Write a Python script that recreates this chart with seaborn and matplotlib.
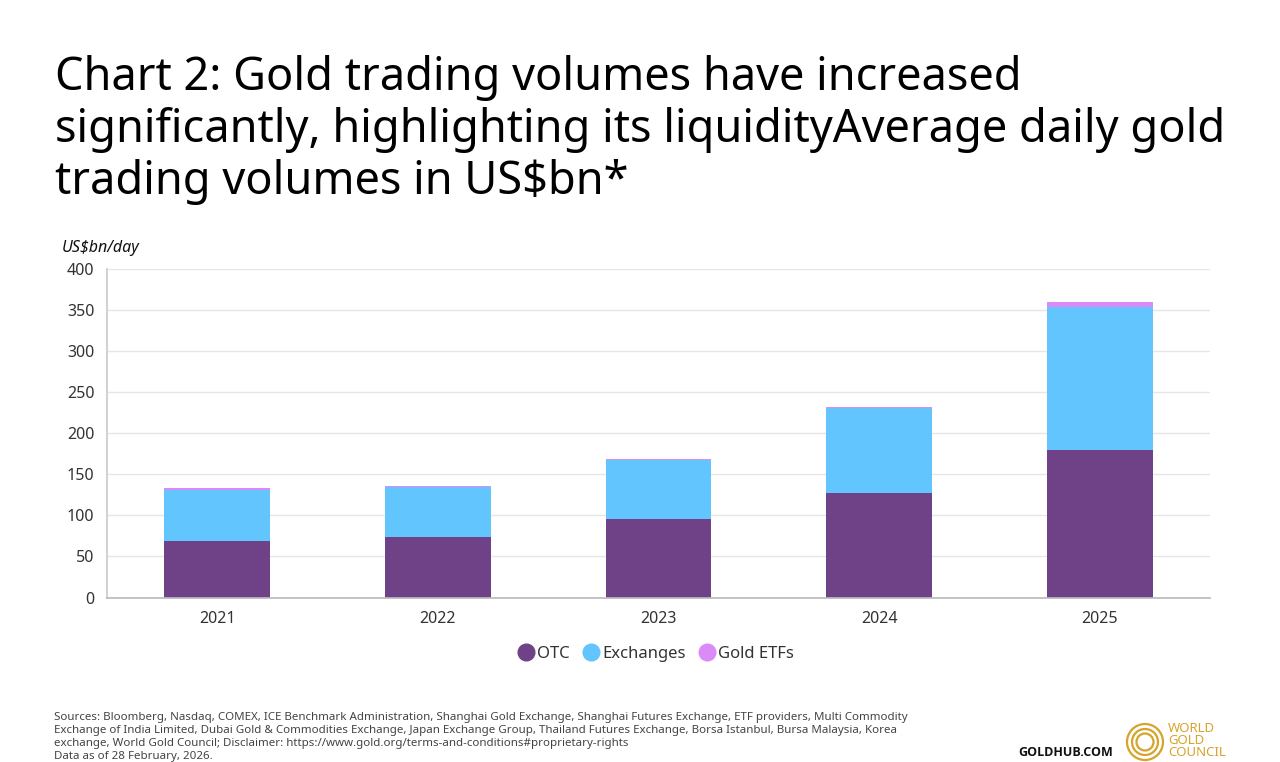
import matplotlib
matplotlib.use("Agg")
import matplotlib.pyplot as plt
import seaborn as sns
import pandas as pd
import numpy as np
from matplotlib.patches import Circle

years = ["2021", "2022", "2023", "2024", "2025"]
otc = [68.5, 74, 95, 127, 179]
exchanges = [62.5, 60.5, 72, 103.5, 174.5]
gold_etfs = [2.5, 1.5, 1.6, 1.7, 6.5]
series_names = ["OTC", "Exchanges", "Gold ETFs"]
colors = ["#6f4287", "#62c5fd", "#dc8af8"]
yticks = [0, 50, 100, 150, 200, 250, 300, 350, 400]

sns.set_theme(style="white")
plt.rcParams["font.family"] = ["Noto Sans", "DejaVu Sans"]

fig = plt.figure(figsize=(12.8, 7.62), dpi=100)
ax = fig.add_axes([107/1280, 1-597.5/762, (1210-107)/1280, (597.5-269)/762])

df = pd.DataFrame({"year": years, "OTC": otc, "Exchanges": exchanges, "Gold ETFs": gold_etfs})
bottoms = np.zeros(len(years))
for name, col in zip(series_names, colors):
    sns.barplot(data=df, x="year", y=name, color=col, bottom=bottoms, ax=ax,
                width=0.48, saturation=1, label=name, edgecolor="none")
    bottoms = bottoms + df[name].values

ax.set_xlim(-0.5, 4.5)
ax.set_ylim(0, 400)
ax.set_yticks(yticks)
ax.set_yticklabels([str(v) for v in yticks])
ax.set_xlabel("")
ax.set_ylabel("")
ax.yaxis.grid(True, color="#e6e6e6", linewidth=1)
ax.set_axisbelow(True)
for s in ["top", "right"]:
    ax.spines[s].set_visible(False)
ax.spines["left"].set_color("#cccccc")
ax.spines["bottom"].set_color("#bbbbbb")
ax.tick_params(axis="both", labelsize=11.5, colors="#333333", length=0)
ax.tick_params(axis="x", pad=10)
ax.tick_params(axis="y", pad=9)

leg = ax.get_legend()
if leg:
    leg.remove()
handles = [plt.Line2D([], [], marker="o", linestyle="none", markersize=12,
                      markerfacecolor=c, markeredgecolor=c) for c in colors]
fig.legend(handles, series_names, loc="center", bbox_to_anchor=(655/1280, 1-653.5/762),
           ncol=3, frameon=False, fontsize=12, handletextpad=0.05, columnspacing=0.7,
           labelcolor="#333333", handlelength=1.2)

fig.text(55/1280, 1-130/762,
         "Chart 2: Gold trading volumes have increased\nsignificantly, highlighting its liquidityAverage daily gold\ntrading volumes in US$bn*",
         fontsize=32.5, color="#000000", va="center", ha="left", linespacing=1.16)
fig.text(62/1280, 1-248/762, "US$bn/day", fontsize=11.5, style="italic", color="#111111",
         va="center", ha="left")

footer = ("Sources: Bloomberg, Nasdaq, COMEX, ICE Benchmark Administration, Shanghai Gold Exchange, Shanghai Futures Exchange, ETF providers, Multi Commodity\n"
          "Exchange of India Limited, Dubai Gold & Commodities Exchange, Japan Exchange Group, Thailand Futures Exchange, Borsa Istanbul, Bursa Malaysia, Korea\n"
          "exchange, World Gold Council; Disclaimer: https://www.gold.org/terms-and-conditions#proprietary-rights\n"
          "Data as of 28 February, 2026.")
fig.text(54/1280, 1-737/762, footer, fontsize=8.3, color="#444444", va="center", ha="left",
         linespacing=1.28)
fig.text(1113/1280, 1-753/762, "GOLDHUB.COM", fontsize=9, fontweight="bold", color="#111111",
         va="center", ha="right", family=["Open Sans", "DejaVu Sans"])

gold = "#d6a32b"
for r in [18, 13, 8.5]:
    c = Circle((1145, 762-742), r, transform=None, fill=False, edgecolor=gold, linewidth=1.6)
    fig.patches.append(c)
fig.text(1168/1280, 1-741/762, "WORLD\nGOLD\nCOUNCIL", fontsize=9.5, color=gold, va="center",
         ha="left", linespacing=0.9)

fig.savefig("out.png", dpi=100)
